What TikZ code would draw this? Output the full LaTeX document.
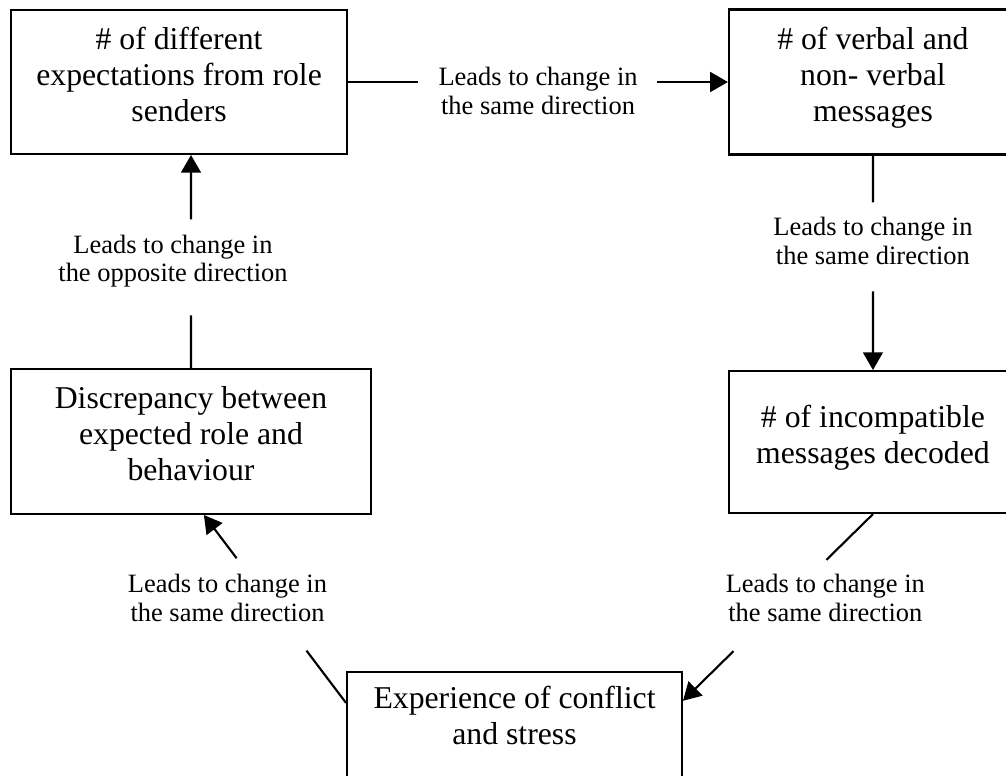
\documentclass[tikz,border=0pt]{standalone}
\usepackage{fontspec}
\setmainfont{Liberation Serif}
\usetikzlibrary{arrows,calc}
\tikzstyle{rb} = [rectangle, draw, align=flush center, inner xsep=0pt, inner ysep=4pt,
    font=\fontsize{12}{13.6}\selectfont, execute at end node={\rule[-6pt]{0pt}{6pt}}]
\tikzstyle{lbl} = [align=center, inner sep=0pt, font=\fontsize{10}{10.7}\selectfont]

\begin{document}
\begin{tikzpicture}[>=triangle 60, thick, x=1pt, y=1pt, node distance=135.9pt]
  \useasboundingbox (0,0) rectangle (380.3,-293);
  \clip (0,0) rectangle (380.3,-293);

  \node[rb, text width=127pt, minimum height=54.4pt]   (exp) at (67.7,-31) {\# of different\\ expectations from role\\ senders};
  \node[rb, text width=108.9pt, minimum height=54.8pt] (msg) [right of=exp, xshift=126.4pt] {\# of verbal and\\ non- verbal\\ messages};
  \node[rb, text width=136.1pt, minimum height=54.8pt] (dis) [below of=exp, xshift=4.5pt] {Discrepancy between\\ expected role and\\ behaviour};
  \node[rb, text width=108.9pt, minimum height=53.7pt] (inc) [below of=msg, yshift=-.2pt] {\# of incompatible\\ messages decoded};
  \node[rb, text width=126.6pt, anchor=north, inner ysep=5.4pt,
        execute at end node={\rule[-28pt]{0pt}{28pt}}] (exs) at (194.5,-253.6) {Experience of conflict\\ and stress};

  \node[lbl] (lblT)  at (203.4,-34.4)  {Leads to change in\\ the same direction};
  \node[lbl] (lblR)  at (330.0,-91.1)  {Leads to change in\\ the same direction};
  \node[lbl] (lblL)  at (65.4,-98.6)   {Leads to change in\\ the opposite direction};
  \node[lbl] (lblDL) at (86.0,-226.0)  {Leads to change in\\ the same direction};
  \node[lbl] (lblDR) at (312.0,-226.0) {Leads to change in\\ the same direction};

  \coordinate (exsL) at ($(exs.north west)+(0,-12.1)$);
  \coordinate (exsR) at ($(exs.north east)+(0,-11.3)$);
  \coordinate (expS) at (dis.north |- exp.south);

  \draw (exp.east) -- ($(exp.east)!.183!(msg.west)$);
  \draw[->] ($(exp.east)!.814!(msg.west)$) -- (msg.west);
  \draw (msg.south) -- ($(msg.south)!.218!(inc.north)$);
  \draw[->] ($(msg.south)!.634!(inc.north)$) -- (inc.north);
  \draw (inc.south) -- ($(inc.south)!.245!(exsR)$);
  \draw[->] ($(inc.south)!.734!(exsR)$) -- (exsR);
  \draw (exsL) -- ($(exsL)!.278!(dis.-80)$);
  \draw[->] ($(exsL)!.770!(dis.-80)$) -- (dis.-80);
  \draw (dis.north) -- ($(dis.north)!.247!(expS)$);
  \draw[->] ($(dis.north)!.698!(expS)$) -- (expS);
\end{tikzpicture}
\end{document}
